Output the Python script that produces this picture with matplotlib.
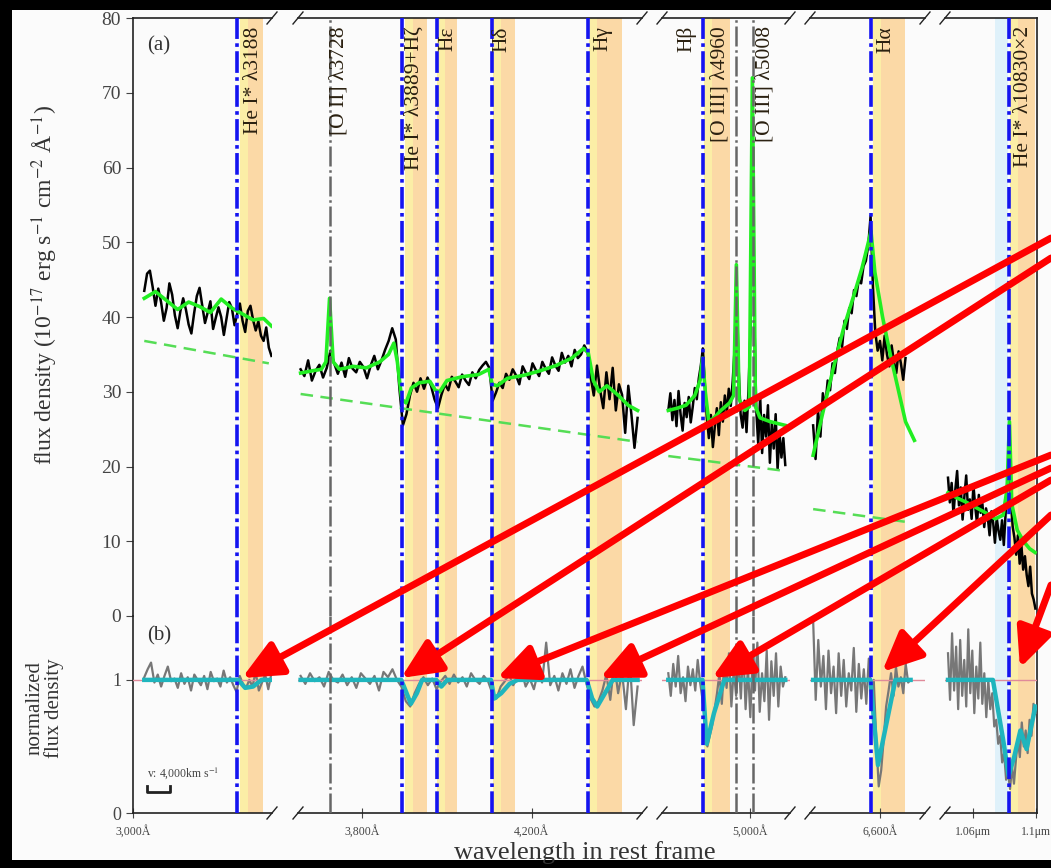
import matplotlib.pyplot as plt
import numpy as np
from matplotlib.patches import Rectangle, FancyArrowPatch
from matplotlib.ticker import NullLocator

plt.rcParams['font.family'] = ['Liberation Serif', 'DejaVu Serif']
plt.rcParams['mathtext.fontset'] = 'stix'

W, H = 1051, 868
K = 1697.0  # pixels per unit of ln(wavelength)

# ---- broken x-axis: tick values / labels per segment ----
seg_ticks = [[3000], [3800, 4200], [5000], [6600], [10600, 11000]]
seg_ticklabels = [['3,000Å'], ['3,800Å', '4,200Å'], ['5,000Å'], ['6,600Å'], ['1.06μm', '1.1μm']]

# ---- spectrum (top panel), wavelengths in Å ----
flux_range = [(3020, 3255), (3665, 4470), (4765, 5105), (6345, 6700), (10445, 10997)]
flux_1 = [43.5, 45.8, 46.2, 44.0, 41.5, 43.8, 42.0, 39.5, 41.2, 44.5, 43.0, 40.2, 38.5, 40.8, 42.5, 41.0,
          39.0, 37.8, 40.5, 42.8, 43.9, 41.5, 39.2, 40.6, 42.1, 38.4, 39.9, 41.3, 40.0, 37.6, 39.8, 42.0,
          41.2, 38.9, 40.4, 41.8, 39.5, 38.0, 40.8, 41.5, 39.6, 38.2, 39.4, 37.5, 36.8, 38.6, 35.9, 34.8]
flux_2 = [33.0, 32.1, 34.2, 31.5, 32.8, 33.6, 31.9, 33.2, 35.5, 33.8,
          32.4, 33.9, 32.0, 34.5, 33.1, 32.6, 34.0, 33.3, 31.8, 33.5, 34.8, 33.0, 34.2, 35.6, 36.8,
          38.5, 37.0, 30.5, 25.5, 27.0, 29.5, 31.2, 30.0, 31.8, 30.4, 31.9, 30.8, 29.0, 27.8, 29.6,
          31.0, 30.2, 32.0, 31.4, 30.6, 32.3, 31.5, 30.9, 32.6, 31.8, 32.9, 33.5, 34.0, 33.2, 28.8,
          29.9, 31.2, 30.5, 32.4, 31.6, 33.0, 32.2, 31.0, 33.4, 32.5, 31.7, 33.8, 32.9, 32.1, 34.0,
          33.1, 32.4, 34.6, 33.5, 32.8, 35.2, 33.9, 34.8, 33.4, 35.6, 34.5, 35.0, 36.2, 35.4, 32.0,
          29.5, 33.5, 30.2, 27.8, 32.6, 29.0, 33.2, 27.5, 31.0, 29.6, 24.5, 30.8, 27.0, 22.5, 26.5]
flux_3 = [27.5, 29.8, 26.2, 28.9, 25.4, 30.1, 27.0, 24.8, 28.5, 26.6, 29.3, 25.9, 28.0, 30.5, 29.0, 31.8,
          33.5, 35.8, 31.0, 26.5, 23.8, 26.9, 22.6, 25.4, 27.8, 24.2, 28.6, 26.0, 29.5, 27.2, 30.4,
          28.1, 31.5, 36.0, 44.0, 33.0, 27.0, 25.2, 28.8, 24.6, 30.2, 38.0, 68.0, 40.0, 27.5, 23.0,
          29.4, 21.8, 26.9, 24.0, 28.2, 20.5, 25.8, 22.4, 27.0, 19.6, 24.5, 21.2, 23.8, 20.2]
flux_4 = [25.5, 21.0, 27.5, 24.0, 29.8, 28.0, 31.5, 30.2, 33.8, 32.5, 35.5, 37.2, 36.0, 39.5, 38.4, 41.2,
          40.5, 43.6, 42.8, 45.0, 44.5, 46.8, 47.5, 49.5, 53.5, 44.0, 38.0, 35.5, 36.8, 34.2, 37.5,
          35.0, 33.4, 36.2, 34.0, 32.5, 35.4, 33.8, 31.6, 34.5]
flux_5 = [18.5, 15.2, 17.8, 13.6, 16.9, 19.4, 14.8, 17.2, 12.9, 16.0, 18.8, 14.2, 15.6, 13.0, 17.5, 14.6,
          12.4, 16.2, 13.8, 15.0, 11.9, 14.4, 13.2, 10.8, 14.0, 12.5, 9.8, 13.1, 11.4, 10.2, 12.8, 9.5,
          13.6, 18.0, 22.5, 15.5, 12.0, 10.5, 8.2, 10.8, 7.0, 9.4, 6.2, 8.0, 5.5, 4.0, 6.6, 3.0, 2.2, 1.0]
fluxes = [flux_1, flux_2, flux_3, flux_4, flux_5]

# model fit (green)
model_lam = [
    [3020, 3040, 3060, 3080, 3100, 3120, 3140, 3160, 3180, 3200, 3220, 3240, 3255],
    [3665, 3690, 3710, 3720, 3728, 3736, 3750, 3780, 3810, 3840, 3860, 3872, 3880, 3890, 3900, 3912,
     3930, 3955, 3968, 3978, 3995, 4030, 4070, 4095, 4103, 4115, 4140, 4180, 4220, 4260, 4300, 4330,
     4342, 4355, 4370, 4390, 4420, 4445, 4470],
    [4765, 4790, 4815, 4840, 4855, 4862, 4870, 4880, 4895, 4915, 4940, 4952, 4960, 4968, 4985, 4998,
     5007, 5016, 5030, 5060, 5105],
    [6345, 6380, 6420, 6460, 6500, 6530, 6555, 6565, 6580, 6610, 6640, 6670, 6700, 6735],
    [10445, 10500, 10560, 10620, 10680, 10740, 10790, 10815, 10830, 10845, 10880, 10920, 10960, 10995],
]
model_flux = [
    [42.5, 43.4, 42.2, 41.0, 42.0, 41.4, 40.6, 42.4, 41.2, 40.4, 39.6, 39.8, 38.8],
    [32.5, 32.8, 33.0, 34.0, 42.5, 34.0, 33.0, 33.4, 33.2, 34.0, 35.0, 36.5, 34.0, 29.0, 28.5, 30.5,
     31.2, 31.4, 30.2, 30.0, 31.5, 32.0, 32.3, 33.0, 31.0, 30.8, 31.8, 32.2, 32.8, 33.5, 34.5, 35.8,
     35.2, 31.5, 30.0, 30.8, 29.5, 28.2, 27.5],
    [27.5, 27.8, 28.2, 29.5, 31.5, 34.5, 30.0, 26.0, 26.5, 27.5, 28.5, 29.5, 47.0, 29.0, 27.5, 28.0,
     72.0, 28.0, 26.5, 26.0, 25.5],
    [21.5, 27.0, 33.0, 38.5, 43.0, 46.5, 50.0, 51.5, 46.0, 40.0, 35.0, 30.5, 26.0, 23.5],
    [16.5, 15.8, 15.2, 14.5, 13.8, 13.0, 13.5, 17.0, 26.0, 15.0, 11.5, 10.0, 9.0, 8.5],
]

# continuum (green dashed)
cont_lam = [[3020, 3250], [3665, 4470], [4765, 5105], [6345, 6700]]
cont_flux = [[36.8, 33.8], [29.7, 23.3], [21.4, 19.4], [14.3, 12.6]]

# ---- normalized spectrum (bottom panel) ----
norm_range = [(3020, 3255), (3665, 4470), (4765, 5105), (6345, 6720), (10445, 10997)]
norm_1 = [1.02, 1.08, 1.13, 0.98, 1.04, 0.95, 1.03, 1.10, 0.99, 1.01, 0.94, 1.05, 0.97, 1.02, 0.92, 1.04,
          1.00, 0.96, 1.03, 0.93, 1.06, 0.99, 1.01, 0.95, 1.07, 0.98, 1.02, 0.96, 0.91, 1.03, 0.97, 0.94,
          1.00, 0.95, 1.06, 0.92, 0.98, 1.04, 0.93, 1.05]
norm_2 = [1.03, 0.97, 1.05, 0.99, 1.02, 0.95, 1.06, 1.00, 0.98, 1.04,
          0.96, 1.02, 0.94, 1.05, 1.01, 0.97, 1.03, 0.92, 1.06, 1.02,
          1.08, 1.00, 0.95, 0.84, 0.80, 0.90, 0.97, 1.02, 0.96, 1.01,
          0.93, 0.99, 1.03, 0.97, 1.04, 0.98, 1.02, 0.95, 1.05, 1.00,
          0.97, 1.03, 0.99, 0.90, 0.86, 0.95, 0.99, 1.04, 0.96, 1.02,
          1.07, 0.95, 1.01, 0.93, 1.06, 0.98, 1.28, 0.96, 1.03, 0.92,
          1.05, 0.97, 1.08, 0.94, 1.03, 1.10, 0.97, 0.86, 0.80, 0.84,
          0.92, 1.04, 0.85, 1.12, 0.90, 1.06, 0.78, 1.15, 0.66, 0.95]
norm_3 = [1.05, 0.88, 1.12, 0.95, 1.18, 0.90, 1.02, 0.84, 1.10, 0.96,
          1.08, 0.92, 1.15, 0.98, 0.85, 0.70, 0.50, 0.58, 0.66, 0.78,
          0.90, 1.05, 0.82, 1.12, 0.94, 1.20, 0.80, 1.08, 0.88, 1.16,
          0.86, 1.25, 0.78, 1.10, 0.72, 1.18, 0.92, 1.28, 0.76, 1.05,
          0.84, 1.22, 0.70, 1.14, 0.88, 1.20, 0.80, 1.10, 0.95, 1.02]
norm_4 = [1.45, 0.85, 1.30, 0.95, 1.18, 0.78, 1.22, 0.90, 1.10, 0.75,
          1.20, 0.88, 1.15, 0.80, 1.05, 0.92, 1.24, 0.76, 1.12, 0.86,
          1.08, 0.82, 1.16, 0.90, 1.00, 0.55, 0.20, 0.32, 0.55, 0.80,
          0.92, 1.05, 0.88, 1.10, 0.95, 1.02, 0.90, 1.12, 0.98, 1.00]
norm_5 = [1.20, 0.85, 1.35, 0.92, 1.25, 0.78, 1.30, 0.88, 1.15, 0.80,
          1.38, 0.90, 1.22, 0.75, 1.10, 0.86, 1.28, 0.82, 1.05, 0.72,
          1.00, 0.78, 0.90, 0.65, 0.70, 0.52, 0.58, 0.38, 0.45, 0.25,
          0.30, 0.18, 0.35, 0.22, 0.40, 0.55, 0.42, 0.68, 0.50, 0.62,
          0.45, 0.70, 0.58, 0.82, 0.75]
norms = [norm_1, norm_2, norm_3, norm_4, norm_5]

# absorption model (cyan)
fit_lam = [
    [3020, 3192, 3205, 3220, 3236, 3255],
    [3665, 3889, 3911, 3925, 3937, 3970, 3982, 3996, 4100, 4108, 4125, 4145, 4165, 4338, 4352, 4365,
     4385, 4405, 4470],
    [4765, 4862, 4874, 4895, 4925, 5105],
    [6345, 6563, 6592, 6660, 6720],
    [10445, 10725, 10790, 10825, 10860, 10900, 10940, 10997],
]
fit_norm = [
    [1.0, 1.0, 0.94, 0.95, 1.0, 1.0],
    [1.0, 1.0, 0.82, 0.90, 1.0, 1.0, 0.95, 1.0, 1.0, 0.86, 0.90, 0.97, 1.0, 1.0, 0.86, 0.80,
     0.90, 1.0, 1.0],
    [1.0, 1.0, 0.52, 0.75, 1.0, 1.0],
    [1.0, 1.0, 0.36, 1.0, 1.0],
    [1.0, 1.0, 0.55, 0.28, 0.42, 0.62, 0.48, 0.80],
]

# ---- line identifications ----
line_lam = [3188.7, 3728.5, 3889.7, 3971.2, 4102.9, 4341.7, 4862.7, 4960.3, 5008.2, 6564.6, 10830.3]
line_name = ['He I* λ3188', '[O II] λ3728', 'He I* λ3889+Hζ', 'Hε', 'Hδ', 'Hγ', 'Hβ',
             '[O III] λ4960', '[O III] λ5008', 'Hα', 'He I* λ10830×2']
line_abs = [True, False, True, True, True, True, True, False, False, True, True]
band_lo = [3196, None, 3897, 3972, 4105, 4345, 4867, None, None, 6572, 10834]
band_hi = [3238, None, 3948, 4019, 4159, 4429, 4941, None, None, 6698, 10995]
blue_band = (10738, 10821)

# layout (pixels)
seg_px = [(133, 272), (298, 642), (662, 790), (810, 925), (945, 1037)]
seg_ref = [(3000, 133), (3800, 362), (5000, 750), (6600, 880), (10600, 973)]
label_dx = [17, 9, 13, 11, 10, 15, -16, -16, 12, 15, 14]
TOP, MID, BOT = 18, 616, 813

fig = plt.figure(figsize=(W / 100, H / 100), dpi=100, facecolor='black')
fig.patches.append(Rectangle((12 / W, 8 / H), 1, (H - 18) / H, transform=fig.transFigure,
                             facecolor='#fbfbfb', edgecolor='none', zorder=-10))


def px_axes(x0, x1, y0, y1):
    ax = fig.add_axes([x0 / W, 1 - y1 / H, (x1 - x0) / W, (y1 - y0) / H])
    ax.set_facecolor('none')
    return ax


def brk(ax, xa, ya, wpx, hpx):
    dx, dy = 5 / wpx, 6 / hpx
    ax.plot([xa - dx, xa + dx], [ya - dy, ya + dy], transform=ax.transAxes, color='#222',
            lw=1.0, clip_on=False)


tops, bots, lims = [], [], []
for i, (x0, x1) in enumerate(seg_px):
    lref, xref = seg_ref[i]
    lo, hi = lref * np.exp((x0 - xref) / K), lref * np.exp((x1 - xref) / K)
    lims.append((lo, hi))
    axt = px_axes(x0, x1, TOP, MID)
    axb = px_axes(x0, x1, MID, BOT)
    for ax in (axt, axb):
        ax.set_xscale('log')
        ax.set_xlim(lo, hi)
        ax.xaxis.set_minor_locator(NullLocator())
        for s in ax.spines.values():
            s.set_color('#222')
            s.set_linewidth(1.2)
        ax.spines['left'].set_visible(i == 0)
        ax.spines['right'].set_visible(i == len(seg_px) - 1)
        ax.tick_params(axis='y', direction='out', length=5, labelsize=14, colors='#444',
                       left=(i == 0), labelleft=(i == 0))
    axt.spines['bottom'].set_visible(False)
    axb.spines['top'].set_visible(False)
    axt.set_ylim(0, 80)
    axb.set_ylim(0, 1.48)
    axt.set_yticks(range(0, 81, 10))
    axb.set_yticks([0, 1])
    axt.set_xticks([])
    axb.set_xticks(seg_ticks[i])
    axb.set_xticklabels(seg_ticklabels[i])
    axb.tick_params(axis='x', direction='inout', length=7, labelsize=8.5, colors='#444', pad=6)
    w = x1 - x0
    if i > 0:
        brk(axt, 0, 1, w, MID - TOP)
        brk(axb, 0, 0, w, BOT - MID)
    if i < len(seg_px) - 1:
        brk(axt, 1, 1, w, MID - TOP)
        brk(axb, 1, 0, w, BOT - MID)

    # spectra
    a, b = flux_range[i]
    lam = np.linspace(a, b, len(fluxes[i]))
    axt.plot(lam, fluxes[i], color='black', lw=1.8, zorder=3)
    axt.plot(model_lam[i], model_flux[i], color='#22ee22', lw=2.6, zorder=4)
    if i < len(cont_lam):
        axt.plot(cont_lam[i], cont_flux[i], color='#55dd55', lw=1.8, ls=(0, (5, 3)), zorder=4)
    a, b = norm_range[i]
    lam = np.linspace(a, b, len(norms[i]))
    axb.plot(lam, norms[i], color='#777777', lw=1.6, zorder=3)
    axb.plot([lo, hi], [1, 1], color='#e08a9a', lw=1.0, zorder=3)
    axb.plot(fit_lam[i], fit_norm[i], color='#1fb5bd', lw=3.2, zorder=4)
    tops.append(axt)
    bots.append(axb)

# bottom-panel "0" tick label sits just above the first x tick label
bots[0].tick_params(axis='y', labelsize=13)

# line markers, bands, labels
for j, lam0 in enumerate(line_lam):
    k = [i for i, (lo, hi) in enumerate(lims) if lo <= lam0 <= hi][0]
    for ax in (tops[k], bots[k]):
        if line_abs[j]:
            ax.axvline(lam0, color='#1414f0', lw=2.6, ls=(0, (6, 1.2, 1, 1.2)), zorder=5)
            mid = band_lo[j] * np.exp(8 / K)
            ax.axvspan(band_lo[j], mid, color='#fbeea6', lw=0, zorder=1)
            ax.axvspan(mid, band_hi[j], color='#fbd9a6', lw=0, zorder=1)
        else:
            ax.axvline(lam0, color='#666666', lw=1.8, ls=(0, (8, 1.5, 1, 1.5)), zorder=5)
        if j == len(line_lam) - 1:
            ax.axvspan(*blue_band, color='#dff1fa', lw=0, zorder=1)
    tops[k].text(lam0 * np.exp(label_dx[j] / K), 78.9, line_name[j], rotation=90, ha='center',
                 va='top', fontsize=15.5, color='#2a2010', zorder=6)

tops[0].text(3025, 77.5, '(a)', fontsize=15, color='#333', va='top')
bots[0].text(3025, 1.40, '(b)', fontsize=15, color='#333', va='top')

# velocity scale bar
bar_lam = [3025, 3025 * np.exp(4000 / 299792.458)]
bots[0].plot([bar_lam[0], bar_lam[0], bar_lam[1], bar_lam[1]], [0.2, 0.16, 0.16, 0.2],
             color='#222', lw=2)
bots[0].text(bar_lam[0], 0.3, r'v: 4,000km s$^{-1}$', fontsize=8.5, color='#444', va='center')

fig.text(45 / W, 1 - 285 / H, r'flux density (10$^{-17}$ erg s$^{-1}$ cm$^{-2}$ Å$^{-1}$)',
         rotation=90, ha='center', va='center', fontsize=17, color='#333')
fig.text(45 / W, 1 - 708 / H, 'normalized\nflux density', rotation=90, ha='center',
         va='center', fontsize=15, color='#333', linespacing=1.0)
fig.text(585 / W, 1 - 853 / H, 'wavelength in rest frame', ha='center', va='center',
         fontsize=19, color='#333')

# red annotation arrows
arrows = [((1051, 238), (242, 678)), ((1051, 258), (401, 678)), ((1051, 455), (497, 678)),
          ((1051, 468), (600, 678)), ((1051, 480), (712, 678)), ((1051, 515), (882, 672)),
          ((1051, 585), (1020, 668))]
for (xs, ys), (xe, ye) in arrows:
    fig.patches.append(FancyArrowPatch((xs / W, 1 - ys / H), (xe / W, 1 - ye / H),
                                       transform=fig.transFigure,
                                       arrowstyle='-|>,head_length=1.2,head_width=0.55',
                                       mutation_scale=20, lw=5, color='#ff0000',
                                       shrinkA=0, shrinkB=0, zorder=10))

fig.savefig('out.png', dpi=100, facecolor='black')
